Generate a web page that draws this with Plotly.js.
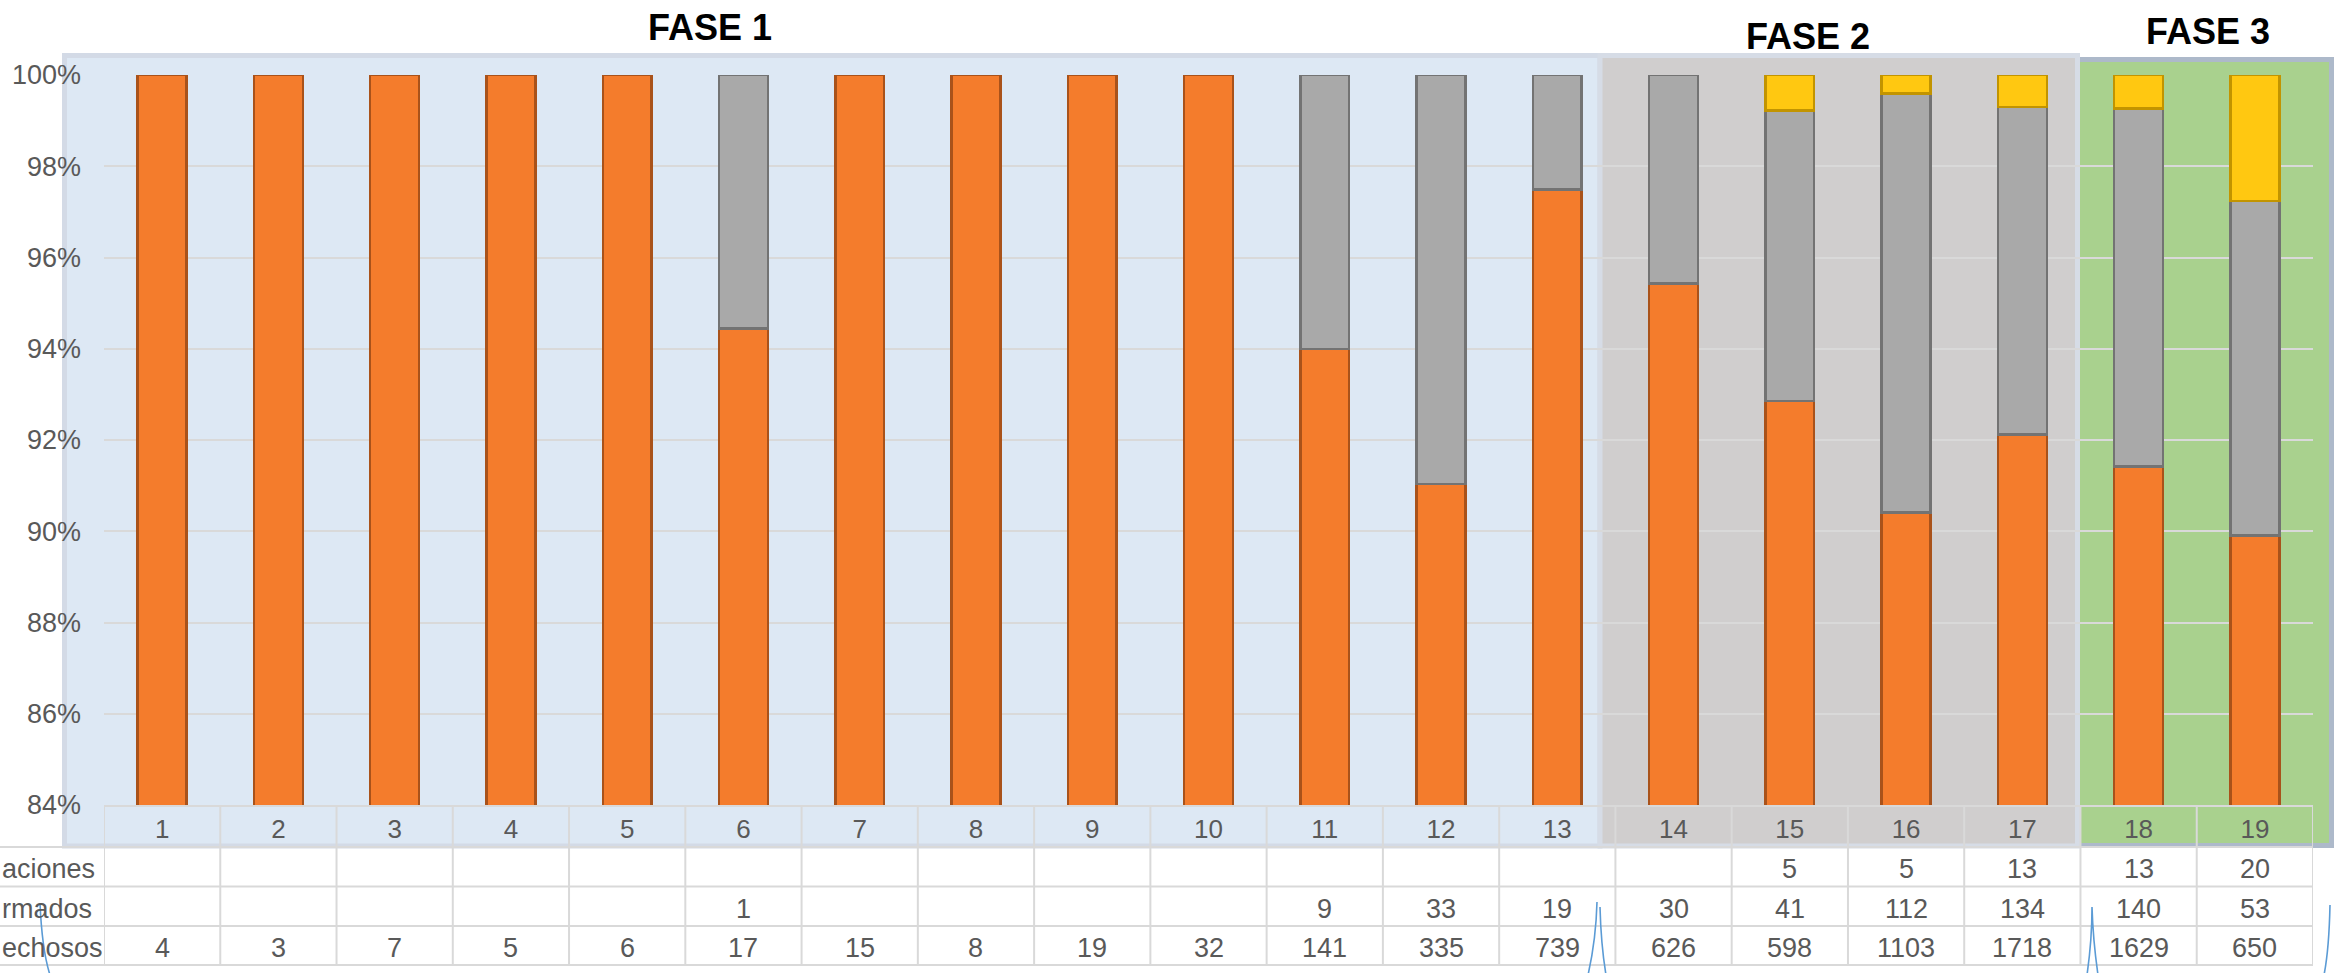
<!DOCTYPE html>
<html><head><meta charset="utf-8">
<script src="https://cdn.plot.ly/plotly-3.0.1.min.js"></script>
<style>html,body{margin:0;padding:0;background:#fff;overflow:hidden}#chart{width:2347px;height:973px;}</style>
</head><body><div id="chart"></div>
<script>
// ---------- DATA ----------
const categories = ['1','2','3','4','5','6','7','8','9','10','11','12','13','14','15','16','17','18','19'];
const satisfechos = [4,3,7,5,6,17,15,8,19,32,141,335,739,626,598,1103,1718,1629,650];
const confirmados = [null,null,null,null,null,1,null,null,null,null,9,33,19,30,41,112,134,140,53];
const reclamaciones = [null,null,null,null,null,null,null,null,null,null,null,null,null,null,5,5,13,13,20];
const rowLabels = ['aciones','rmados','echosos'];
const phaseTitles = ['FASE 1','FASE 2','FASE 3'];

// ---------- LAYOUT HELPERS (pixels -> paper) ----------
const W = 2347, H = 973;
const L = 104, R = 2313, T = 75, B = 805;
const px = x => (x - L) / (R - L);
const py = y => (B - y) / (B - T);
const P = (x, y) => px(x) + ',' + py(y);

const txtColor = '#595959';
const fam = 'Liberation Sans, Arial, sans-serif';
const lineCol = '#D9D9D9';

const traces = [
  {type:'bar', x:categories, y:satisfechos, name:rowLabels[2],
   marker:{color:'#F47C2C', line:{color:'#A9521A', width:2.5}}, width:0.42},
  {type:'bar', x:categories, y:confirmados, name:rowLabels[1],
   marker:{color:'#A9A9A9', line:{color:'#737373', width:2.5}}, width:0.42},
  {type:'bar', x:categories, y:reclamaciones, name:rowLabels[0],
   marker:{color:'#FFC811', line:{color:'#C29400', width:2.5}}, width:0.42}
];

const shapes = [];
// phase panels
shapes.push({type:'rect', xref:'paper', yref:'paper', layer:'below',
  x0:px(64.5), x1:px(1600), y0:py(846), y1:py(55.5),
  fillcolor:'#DDE8F4', line:{color:'#D3DAE6', width:5}});
shapes.push({type:'rect', xref:'paper', yref:'paper', layer:'below',
  x0:px(2080), x1:px(2331.5), y0:py(845.5), y1:py(59.5),
  fillcolor:'#A9D18E', line:{width:0}});
shapes.push({type:'path', xref:'paper', yref:'paper', layer:'below',
  path:'M '+P(2080,59.5)+' L '+P(2331.5,59.5)+' L '+P(2331.5,845.5)+' L '+P(2080,845.5),
  line:{color:'#ADB9CA', width:5}});
shapes.push({type:'rect', xref:'paper', yref:'paper', layer:'below',
  x0:px(1600), x1:px(2077.5), y0:py(846), y1:py(55.5),
  fillcolor:'#D0CECE', line:{color:'#D6DCE6', width:5}});
// table horizontal lines
[847, 886.5, 926, 965].forEach(y => shapes.push({type:'line', xref:'paper', yref:'paper', layer:'below',
  x0:px(0), x1:1, y0:py(y), y1:py(y), line:{color:lineCol, width:2}}));
// table vertical lines at category boundaries
for (let k = 0; k <= categories.length; k++) {
  shapes.push({type:'line', xref:'x', yref:'paper', layer:'below',
    x0:k-0.5, x1:k-0.5, y0:py(805), y1:py(965), line:{color:lineCol, width:2}});
}
// small hand-drawn blue strokes
const blue = {color:'#5B9BD5', width:1.6};
[
  'M '+P(40,903)+' Q '+P(42,950)+' '+P(50,975),
  'M '+P(1588,975)+' Q '+P(1596,940)+' '+P(1597,902),
  'M '+P(1600,907)+' Q '+P(1601,945)+' '+P(1606,975),
  'M '+P(2087,975)+' Q '+P(2092,940)+' '+P(2092,907)+' Q '+P(2093,940)+' '+P(2098,975),
  'M '+P(2330,905)+' Q '+P(2329,950)+' '+P(2324,975)
].forEach(p => shapes.push({type:'path', xref:'paper', yref:'paper', layer:'above', path:p, line:blue}));

const annotations = [];
// phase titles
[[710,27],[1808,36],[2208,31]].forEach((pos,i) => annotations.push({
  xref:'paper', yref:'paper', x:px(pos[0]), y:py(pos[1]), xanchor:'center', yanchor:'middle',
  text:'<b>'+phaseTitles[i]+'</b>', showarrow:false, font:{family:fam, size:36, color:'#000'}}));
// table rows (category index positions on the x axis)
const rows = [reclamaciones, confirmados, satisfechos];
const rowY = [869, 908.5, 947.5];
rows.forEach((arr, r) => {
  arr.forEach((v, i) => {
    if (v === null || v === undefined) return;
    annotations.push({xref:'x', yref:'paper', x:i, y:py(rowY[r]), xanchor:'center', yanchor:'middle',
      text:String(v), showarrow:false, font:{family:fam, size:27, color:txtColor}});
  });
});
// row labels, at the left edge of the picture
rowLabels.forEach((t, r) => annotations.push({xref:'paper', yref:'paper', x:px(0), y:py(rowY[r]),
  xanchor:'left', yanchor:'middle', text:t, showarrow:false, font:{family:fam, size:27, color:txtColor}}));

const layout = {
  width:W, height:H,
  margin:{l:L, r:W-R, t:T, b:H-B, pad:0},
  paper_bgcolor:'#FFFFFF', plot_bgcolor:'rgba(0,0,0,0)',
  barmode:'stack', barnorm:'fraction', showlegend:false, hovermode:false,
  xaxis:{type:'category', range:[-0.5, categories.length-0.5], autorange:false,
    showgrid:false, zeroline:false, showline:true, linecolor:lineCol, linewidth:2,
    ticks:'', ticklabelstandoff:0, tickfont:{family:fam, size:26, color:txtColor}},
  yaxis:{range:[0.84,1.0], autorange:false, tick0:0.84, dtick:0.02, tickformat:'.0%', showgrid:true, gridcolor:lineCol, gridwidth:2,
    zeroline:false, showline:false, ticks:'', ticklabelstandoff:22, tickfont:{family:fam, size:27, color:txtColor}},
  shapes:shapes, annotations:annotations
};

Plotly.newPlot('chart', traces, layout, {staticPlot:true, displayModeBar:false});
</script>
</body></html>
